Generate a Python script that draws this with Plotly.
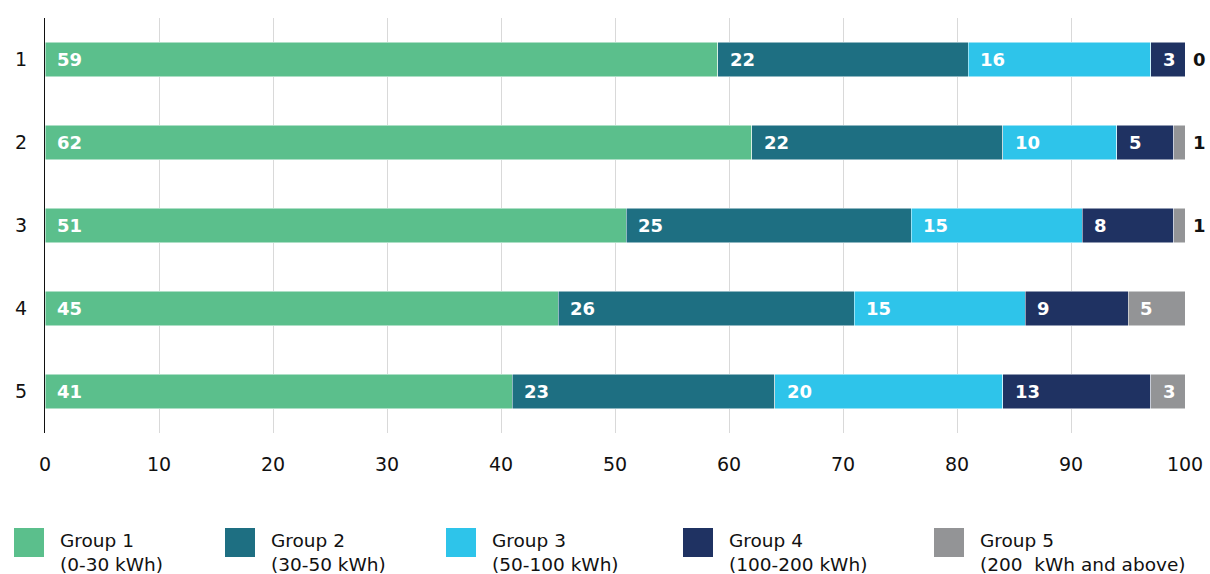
import plotly.graph_objects as go

categories = ["1", "2", "3", "4", "5"]
group_names = ["Group 1", "Group 2", "Group 3", "Group 4", "Group 5"]
group_ranges = ["(0-30 kWh)", "(30-50 kWh)", "(50-100 kWh)", "(100-200 kWh)", "(200  kWh and above)"]
group1 = [59, 62, 51, 45, 41]
group2 = [22, 22, 25, 26, 23]
group3 = [16, 10, 15, 15, 20]
group4 = [3, 5, 8, 9, 13]
group5 = [0, 1, 1, 5, 3]
x_ticks = [0, 10, 20, 30, 40, 50, 60, 70, 80, 90, 100]

colors = ["#5bbf8c", "#1e6f82", "#2ec4ea", "#1f3262", "#939496"]
series = [group1, group2, group3, group4, group5]
FONT = "DejaVu Sans"

W, H = 1210, 574
L, T = 45, 18
plot_right, plot_bottom = 1185, 433
R, B = W - plot_right, H - plot_bottom
pw, ph = plot_right - L, plot_bottom - T

fig = go.Figure()
for name, vals, col in zip(group_names, series, colors):
    fig.add_trace(go.Bar(
        y=categories, x=vals, name=name, orientation="h",
        marker=dict(color=col, line=dict(color="white", width=0.5)),
        width=0.41, showlegend=False, hoverinfo="x+name",
    ))

# value labels: inside-left in white, tiny last segments outside in black
annotations = []
for i, cat in enumerate(categories):
    start = 0
    for k, vals in enumerate(series):
        v = vals[i]
        if v >= 2:
            annotations.append(dict(
                x=start, y=i, xref="x", yref="y", text="<b>%d</b>" % v,
                showarrow=False, xanchor="left", yanchor="middle", xshift=10,
                font=dict(family=FONT, size=18, color="white"),
            ))
        elif k == len(series) - 1:
            annotations.append(dict(
                x=start + v, y=i, xref="x", yref="y", text="<b>%d</b>" % v,
                showarrow=False, xanchor="left", yanchor="middle", xshift=6,
                font=dict(family=FONT, size=18, color="#111111"),
            ))
        start += v

# custom legend with large swatches (pixel positions on the page)
shapes = []
legend_x = [14, 225, 446, 683, 934]
for px, name, rng, col in zip(legend_x, group_names, group_ranges, colors):
    shapes.append(dict(type="rect", xref="paper", yref="paper",
                       x0=(px - L) / pw, x1=(px + 30 - L) / pw,
                       y0=(plot_bottom - 557) / ph,
                       y1=(plot_bottom - 528) / ph,
                       fillcolor=col, line=dict(width=0)))
    annotations.append(dict(
        x=(px + 44 - L) / pw, y=(plot_bottom - 528) / ph,
        xref="paper", yref="paper",
        text=name + "<br>" + rng, showarrow=False, align="left",
        xanchor="left", yanchor="top",
        font=dict(family=FONT, size=18.5, color="#111111"),
    ))

fig.update_layout(
    barmode="stack",
    width=W, height=H,
    margin=dict(l=L, r=R, t=T, b=B, autoexpand=False),
    plot_bgcolor="white", paper_bgcolor="white",
    font=dict(family=FONT, size=18, color="#111111"),
    xaxis=dict(range=[0, 100], tickvals=x_ticks, showgrid=True,
               gridcolor="#d9d9d9", gridwidth=1, zeroline=False,
               showline=False, ticks="outside", ticklen=14, tickcolor="rgba(0,0,0,0)",
               tickfont=dict(family=FONT, size=19, color="#111111")),
    yaxis=dict(range=[4.5, -0.5], showgrid=False, zeroline=False,
               showline=True, linecolor="#111111", linewidth=1,
               ticks="outside", ticklen=13, tickcolor="rgba(0,0,0,0)",
               tickfont=dict(family=FONT, size=19, color="#111111")),
    shapes=shapes,
    annotations=annotations,
)

# drop the default body margin so the figure sits at the page origin
fig.write_html("out.html", config={"displayModeBar": False},
               post_script="document.body.style.margin='0';document.body.style.overflow='hidden';")
